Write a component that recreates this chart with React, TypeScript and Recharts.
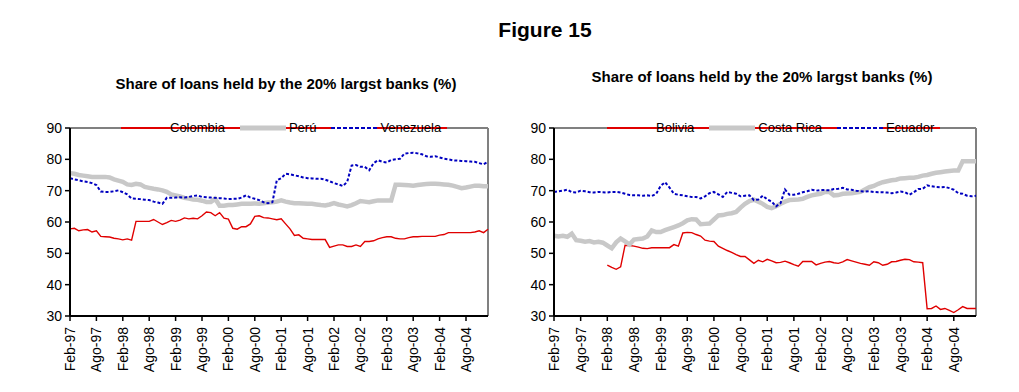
import React from 'react';
import { LineChart, Line, XAxis, YAxis, ReferenceLine } from 'recharts';

// Monthly categories Feb-97 .. Jan-05
const monthNames = ['Ene', 'Feb', 'Mar', 'Abr', 'May', 'Jun', 'Jul', 'Ago', 'Sep', 'Oct', 'Nov', 'Dic'];
const months: string[] = [];
for (let i = 0; i < 96; i++) {
  const m = (1 + i) % 12;
  const yr = 97 + Math.floor((1 + i) / 12);
  months.push(`${monthNames[m]}-${String(yr % 100).padStart(2, '0')}`);
}

const tickLabels = [
  'Feb-97', 'Ago-97', 'Feb-98', 'Ago-98', 'Feb-99', 'Ago-99', 'Feb-00', 'Ago-00',
  'Feb-01', 'Ago-01', 'Feb-02', 'Ago-02', 'Feb-03', 'Ago-03', 'Feb-04', 'Ago-04',
];
const yTicks = [30, 40, 50, 60, 70, 80, 90];

const colombia = [
  57.8, 58.0, 57.2, 57.5, 57.6, 56.8, 57.2, 55.4, 55.3, 55.2, 54.8, 54.6,
  54.3, 54.6, 54.2, 60.2, 60.2, 60.2, 60.2, 60.8, 60.0, 59.2, 59.8, 60.5,
  60.2, 60.6, 61.3, 61.0, 61.2, 61.0, 62.0, 63.2, 63.0, 62.0, 63.0, 61.2,
  60.9, 58.0, 57.7, 58.5, 58.5, 59.4, 61.8, 62.0, 61.4, 61.3, 61.0, 60.7,
  61.0, 59.4, 57.8, 55.7, 55.9, 54.8, 54.6, 54.4, 54.4, 54.4, 54.4, 51.9,
  52.3, 52.7, 52.7, 52.2, 52.2, 52.7, 52.2, 53.8, 53.8, 54.0, 54.6, 55.0,
  55.3, 55.3, 54.8, 54.6, 54.6, 55.0, 55.3, 55.3, 55.4, 55.4, 55.4, 55.4,
  55.8, 56.0, 56.6, 56.6, 56.6, 56.6, 56.6, 56.6, 56.8, 57.2, 56.6, 57.7,
];
const peru = [
  75.6, 75.4, 75.0, 74.8, 74.6, 74.4, 74.4, 74.4, 74.4, 74.2, 73.6, 73.2,
  72.8, 72.0, 71.8, 72.2, 72.0, 71.2, 70.9, 70.6, 70.4, 70.1, 69.6, 68.8,
  68.5, 68.2, 67.7, 67.5, 67.2, 67.1, 66.8, 66.4, 66.4, 67.4, 65.2, 65.2,
  65.4, 65.4, 65.6, 65.8, 65.8, 65.8, 65.9, 65.8, 66.0, 66.2, 66.3, 66.5,
  66.9, 66.5, 66.2, 66.0, 66.0, 65.9, 65.8, 65.8, 65.6, 65.4, 65.3, 65.6,
  66.0, 65.6, 65.3, 65.0, 65.4, 66.0, 66.7, 66.5, 66.3, 66.6, 66.9, 66.9,
  66.9, 66.9, 71.9, 71.9, 71.8, 71.7, 71.6, 71.8, 72.0, 72.1, 72.2, 72.2,
  72.1, 72.0, 71.9, 71.6, 71.2, 70.8, 71.0, 71.3, 71.6, 71.6, 71.4, 71.4,
];
const venezuela = [
  74.0, 73.6, 73.3, 73.0, 72.8, 72.4, 71.8, 69.7, 69.6, 69.6, 69.8, 70.1,
  69.5, 68.8, 67.5, 67.4, 67.3, 67.1, 67.0, 66.5, 66.2, 65.8, 67.7, 67.7,
  67.8, 67.9, 67.8, 68.0, 68.3, 68.5, 68.0, 67.9, 67.8, 67.7, 67.6, 67.5,
  67.3, 67.4, 67.4, 67.8, 68.5, 67.8, 67.4, 67.0, 66.3, 66.0, 66.3, 73.3,
  74.0, 75.4, 75.2, 74.9, 74.6, 74.2, 74.0, 73.9, 73.8, 73.8, 73.5, 73.0,
  72.4, 72.0, 71.5, 72.8, 78.0, 78.2, 77.6, 77.6, 76.5, 78.8, 79.7, 79.2,
  79.0, 79.8, 80.0, 80.2, 81.8, 82.0, 82.1, 81.9, 81.6, 81.0, 80.8, 81.0,
  80.6, 80.2, 80.0, 79.7, 79.6, 79.5, 79.4, 79.3, 79.2, 78.8, 78.4, 79.2,
];

const bolivia: (number | null)[] = [
  null, null, null, null, null, null, null, null, null, null, null, null,
  46.2, 45.5, 44.9, 45.7, 52.6, 52.5, 52.3, 52.0, 51.6, 51.5, 51.8, 51.8,
  51.8, 51.8, 51.8, 52.8, 52.3, 56.5, 56.7, 56.6, 56.0, 55.5, 54.2, 53.9,
  53.8, 52.3, 51.6, 50.9, 50.3, 49.6, 49.0, 49.0, 47.9, 46.8, 47.8, 47.3,
  48.1, 47.6, 47.0, 47.1, 47.5, 47.0, 46.4, 45.9, 47.4, 47.4, 47.4, 46.3,
  46.8, 47.2, 47.4, 47.0, 46.8, 47.3, 48.0, 47.6, 47.2, 46.8, 46.5, 46.2,
  47.3, 47.0, 46.2, 46.5, 47.3, 47.4, 47.8, 48.1, 48.0, 47.3, 47.2, 47.0,
  32.3, 32.4, 33.2, 32.1, 32.4, 31.8, 31.1, 32.0, 33.0, 32.4, 32.4, 32.4,
];
const costaRica = [
  55.6, 55.4, 55.6, 55.3, 56.3, 54.2, 54.0, 53.7, 53.9, 53.5, 53.7, 53.4,
  52.5, 51.6, 53.5, 54.7, 53.8, 52.8, 54.4, 54.6, 54.7, 55.4, 57.3, 56.8,
  56.8, 57.4, 57.9, 58.4, 58.9, 59.6, 60.5, 60.9, 60.8, 59.3, 59.4, 59.5,
  60.8, 62.1, 62.2, 62.6, 62.8, 63.2, 64.6, 65.8, 66.7, 67.1, 66.5, 65.8,
  64.8, 64.4, 65.0, 65.8, 66.5, 67.0, 67.1, 67.2, 67.4, 68.0, 68.5, 68.8,
  69.0, 69.6, 69.6, 68.5, 68.6, 69.0, 69.1, 69.2, 69.4, 69.6, 70.4, 71.1,
  71.5, 72.2, 72.7, 73.0, 73.3, 73.5, 73.9, 74.0, 74.1, 74.1, 74.4, 74.8,
  75.0, 75.4, 75.7, 75.9, 76.1, 76.3, 76.4, 76.4, 79.4, 79.4, 79.4, 79.4,
];
const ecuador = [
  69.6, 69.8, 70.0, 70.3, 69.5, 69.4, 70.0, 69.8, 69.5, 69.4, 69.6, 69.5,
  69.4, 69.6, 69.6, 69.4, 69.0, 68.6, 68.5, 68.5, 68.4, 68.5, 68.3, 69.0,
  71.5, 72.7, 71.0, 69.0, 68.7, 68.5, 68.2, 68.0, 68.0, 67.5, 68.2, 69.2,
  69.6, 68.8, 68.0, 69.6, 69.3, 69.0, 68.2, 68.4, 68.5, 67.0, 67.2, 68.4,
  67.2, 66.5, 65.0, 66.0, 70.4, 68.7, 68.7, 69.0, 69.5, 69.8, 70.3, 70.0,
  70.2, 70.2, 70.1, 70.5, 70.6, 70.9, 70.4, 70.3, 70.0, 69.8, 69.7, 69.8,
  69.6, 69.5, 69.5, 69.4, 69.2, 69.4, 69.7, 69.5, 68.7, 69.5, 70.5, 70.6,
  71.7, 71.4, 71.2, 71.1, 71.2, 70.8, 70.3, 69.2, 69.0, 68.4, 68.2, 68.4,
];

const FONT = '"Liberation Sans", Arial, sans-serif';
const RED = '#e00000';
const GRAY = '#c8c8c8';
const BLUE = '#0000c0';

type SeriesDef = { key: string; name: string; kind: 'red' | 'gray' | 'blue' };

const leftSeries: SeriesDef[] = [
  { key: 'a', name: 'Colombia', kind: 'red' },
  { key: 'b', name: 'Perú', kind: 'gray' },
  { key: 'c', name: 'Venezuela', kind: 'blue' },
];
const rightSeries: SeriesDef[] = [
  { key: 'a', name: 'Bolivia', kind: 'red' },
  { key: 'b', name: 'Costa Rica', kind: 'gray' },
  { key: 'c', name: 'Ecuador', kind: 'blue' },
];

const leftData = months.map((m, i) => ({ month: m, a: colombia[i], b: peru[i], c: venezuela[i] }));
const rightData = months.map((m, i) => ({ month: m, a: bolivia[i], b: costaRica[i], c: ecuador[i] }));

const lineProps = (kind: string) => {
  if (kind === 'red') return { stroke: RED, strokeWidth: 1.4 };
  if (kind === 'gray') return { stroke: GRAY, strokeWidth: 4.5 };
  return { stroke: BLUE, strokeWidth: 2, strokeDasharray: '3 2' };
};

const RotTick = (props: any) => {
  const { x, y, payload } = props;
  const ty = y + 4;
  return (
    <text
      x={x}
      y={ty}
      transform={`rotate(-90 ${x} ${ty})`}
      textAnchor="end"
      dy="0.36em"
      fontSize={14}
      fill="#000"
      fontFamily={FONT}
    >
      {payload.value}
    </text>
  );
};

const LegendSymbol = ({ kind }: { kind: string }) => (
  <svg width={46} height={8} style={{ display: 'block' }}>
    {kind === 'red' && <line x1={0} x2={46} y1={4} y2={4} stroke={RED} strokeWidth={2} />}
    {kind === 'gray' && <line x1={0} x2={46} y1={4} y2={4} stroke={GRAY} strokeWidth={5} />}
    {kind === 'blue' && (
      <>
        <rect x={0} y={0} width={46} height={8} fill="#fff" />
        <line x1={0} x2={46} y1={4} y2={4} stroke={BLUE} strokeWidth={2} strokeDasharray="4 2" />
      </>
    )}
  </svg>
);

const PanelLegend = ({ series, left, top }: { series: SeriesDef[]; left: number; top: number }) => (
  <div style={{ position: 'absolute', left, top, height: 16, paddingRight: 6, zIndex: 2 }}>
    <div style={{ position: 'absolute', left: 0, right: 0, top: 7, height: 2, background: RED }} />
    <div style={{ position: 'relative', display: 'flex', alignItems: 'center', height: 16 }}>
      {series.map((s, i) => (
        <div key={s.key} style={{ display: 'flex', alignItems: 'center', marginRight: i < series.length - 1 ? 15 : 0 }}>
          <LegendSymbol kind={s.kind} />
          <span style={{ marginLeft: 3, fontSize: 13, fontFamily: FONT, color: '#000', lineHeight: '16px' }}>{s.name}</span>
        </div>
      ))}
    </div>
  </div>
);

type PanelProps = {
  data: any[];
  series: SeriesDef[];
  left: number;
  width: number;
  yWidth: number;
  marginRight: number;
};

const Panel = ({ data, series, left, width, yWidth, marginRight }: PanelProps) => (
  <div style={{ position: 'absolute', left, top: 100 }}>
    <LineChart width={width} height={292} data={data} margin={{ top: 28, right: marginRight, bottom: 16, left: 0 }}>
      <ReferenceLine y={90} stroke="#808080" strokeWidth={2} />
      <ReferenceLine x={months[months.length - 1]} stroke="#808080" strokeWidth={2} />
      <XAxis
        dataKey="month"
        ticks={tickLabels}
        interval={0}
        height={60}
        tickSize={5}
        tick={<RotTick />}
        axisLine={{ stroke: '#000', strokeWidth: 2 }}
        tickLine={{ stroke: '#000', strokeWidth: 1.5 }}
      />
      <YAxis
        domain={[30, 90]}
        ticks={yTicks}
        interval={0}
        width={yWidth}
        tickSize={5}
        tickMargin={3}
        axisLine={{ stroke: '#000', strokeWidth: 2 }}
        tickLine={{ stroke: '#000', strokeWidth: 1.5 }}
        tick={{ fontSize: 14, fill: '#000', fontFamily: FONT }}
      />
      {series.map((s) => (
        <Line
          key={s.key}
          type="linear"
          dataKey={s.key}
          name={s.name}
          dot={false}
          activeDot={false}
          isAnimationActive={false}
          connectNulls={false}
          {...lineProps(s.kind)}
        />
      ))}
    </LineChart>
  </div>
);

export default function App() {
  return (
    <div style={{ position: 'absolute', left: 0, top: 0, width: 1019, height: 392, background: '#fff', fontFamily: FONT }}>
      <div style={{ position: 'absolute', left: 0, width: 1090, top: 18, textAlign: 'center', fontWeight: 'bold', fontSize: 21 }}>
        Figure 15
      </div>
      <div style={{ position: 'absolute', left: 86, width: 400, top: 75, textAlign: 'center', fontWeight: 'bold', fontSize: 15 }}>
        Share of loans held by the 20% largst banks (%)
      </div>
      <div style={{ position: 'absolute', left: 562, width: 400, top: 68, textAlign: 'center', fontWeight: 'bold', fontSize: 15 }}>
        Share of loans held by the 20% largst banks (%)
      </div>
      <Panel data={leftData} series={leftSeries} left={0} width={500} yWidth={70} marginRight={12} />
      <Panel data={rightData} series={rightSeries} left={500} width={519} yWidth={54} marginRight={43} />
      <PanelLegend series={leftSeries} left={121} top={120} />
      <PanelLegend series={rightSeries} left={607} top={120} />
    </div>
  );
}
